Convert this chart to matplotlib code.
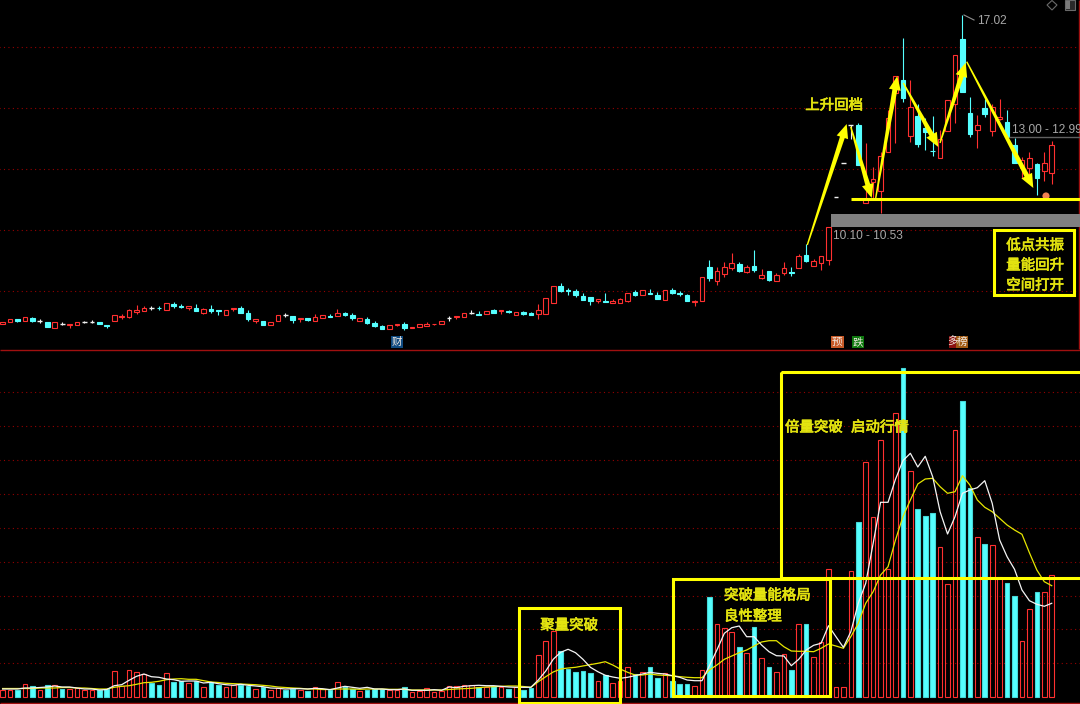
# imports
from matplotlib import pyplot as plt
from matplotlib.patches import Rectangle, Polygon, Circle
import matplotlib.patheffects as pe
import numpy as np

plt.rcParams['font.family'] = ['Noto Sans CJK SC', 'DejaVu Sans']

# daily prices
opens = [8.46, 8.49, 8.54, 8.52, 8.57, 8.51, 8.50, 8.37, 8.46, 8.44,
         8.44, 8.50, 8.50, 8.50, 8.44, 8.51, 8.58, 8.59, 8.69, 8.70,
         8.77, 8.77, 8.72, 8.84, 8.81, 8.77, 8.77, 8.66, 8.75, 8.73,
         8.62, 8.74, 8.77, 8.67, 8.52, 8.52, 8.44, 8.51, 8.62, 8.60,
         8.54, 8.56, 8.51, 8.56, 8.61, 8.60, 8.67, 8.62, 8.51, 8.55,
         8.48, 8.41, 8.35, 8.43, 8.45, 8.37, 8.40, 8.42, 8.45, 8.45,
         8.56, 8.58, 8.58, 8.67, 8.65, 8.65, 8.73, 8.70, 8.71, 8.63,
         8.69, 8.66, 8.64, 8.64, 8.87, 9.21, 9.12, 9.10, 9.01, 8.98,
         8.91, 8.90, 8.86, 8.87, 8.90, 9.08, 9.03, 9.07, 9.03, 8.93,
         9.13, 9.06, 9.03, 8.88, 8.91, 9.61, 9.31, 9.47, 9.60, 9.68,
         9.51, 9.63, 9.38, 9.52, 9.32, 9.49, 9.51, 9.60, 9.88, 9.64,
         9.70, 9.78, 11.28, 12.18, 13.26, 13.26, 11.11, 11.66, 11.42, 12.48,
         14.27, 14.69, 12.94, 13.53, 13.17, 12.51, 12.32, 13.08, 13.90, 16.10,
         13.64, 13.11, 13.78, 13.07, 13.45, 13.34, 12.69, 12.03, 12.04, 12.15,
         11.96, 11.89]
closes = [8.50, 8.54, 8.51, 8.58, 8.51, 8.51, 8.40, 8.49, 8.46, 8.45,
          8.50, 8.50, 8.50, 8.45, 8.42, 8.62, 8.61, 8.72, 8.72, 8.77,
          8.77, 8.76, 8.87, 8.80, 8.79, 8.80, 8.71, 8.74, 8.71, 8.71,
          8.72, 8.76, 8.66, 8.55, 8.54, 8.43, 8.50, 8.62, 8.62, 8.53,
          8.56, 8.53, 8.58, 8.62, 8.58, 8.67, 8.63, 8.56, 8.56, 8.48,
          8.42, 8.35, 8.44, 8.45, 8.38, 8.40, 8.45, 8.46, 8.46, 8.52,
          8.56, 8.60, 8.66, 8.67, 8.63, 8.71, 8.66, 8.72, 8.68, 8.69,
          8.65, 8.62, 8.72, 8.97, 9.21, 9.11, 9.11, 9.03, 8.93, 8.90,
          8.94, 8.89, 8.90, 8.95, 9.06, 9.03, 9.12, 9.05, 8.95, 9.12,
          9.06, 9.05, 8.90, 8.91, 9.40, 9.39, 9.53, 9.61, 9.70, 9.53,
          9.61, 9.55, 9.44, 9.34, 9.44, 9.59, 9.49, 9.86, 9.74, 9.75,
          9.87, 10.52, 11.28, 12.18, 13.26, 12.11, 11.22, 11.75, 12.36, 13.46,
          14.82, 14.09, 13.80, 12.71, 13.06, 12.50, 12.84, 14.05, 15.54, 14.30,
          12.99, 13.25, 13.59, 13.80, 13.49, 12.90, 12.16, 12.25, 12.30, 11.77,
          12.17, 12.69]
highs = [8.50, 8.54, 8.54, 8.58, 8.59, 8.55, 8.50, 8.50, 8.49, 8.45,
         8.50, 8.52, 8.53, 8.50, 8.44, 8.62, 8.65, 8.74, 8.82, 8.80,
         8.81, 8.80, 8.87, 8.88, 8.85, 8.80, 8.84, 8.77, 8.82, 8.73,
         8.72, 8.76, 8.80, 8.72, 8.54, 8.52, 8.50, 8.62, 8.67, 8.60,
         8.56, 8.56, 8.64, 8.62, 8.65, 8.74, 8.68, 8.66, 8.56, 8.59,
         8.51, 8.44, 8.44, 8.45, 8.49, 8.40, 8.45, 8.49, 8.46, 8.52,
         8.60, 8.60, 8.66, 8.73, 8.71, 8.71, 8.75, 8.72, 8.73, 8.69,
         8.71, 8.69, 8.84, 8.97, 9.21, 9.28, 9.17, 9.16, 9.06, 8.98,
         8.94, 9.06, 8.95, 8.97, 9.07, 9.12, 9.12, 9.16, 9.09, 9.12,
         9.17, 9.10, 9.04, 8.92, 9.40, 9.76, 9.61, 9.72, 9.93, 9.72,
         9.66, 10.00, 9.57, 9.52, 9.48, 9.72, 9.61, 9.91, 10.12, 9.80,
         9.87, 10.53, 11.28, 12.18, 13.26, 13.31, 12.72, 12.07, 12.48, 13.72,
         14.82, 16.14, 14.69, 13.90, 13.47, 13.54, 13.11, 14.05, 15.54, 17.02,
         14.12, 13.56, 14.07, 13.90, 14.07, 13.72, 12.87, 12.33, 12.47, 12.18,
         12.47, 12.80]
lows = [8.46, 8.49, 8.49, 8.52, 8.49, 8.48, 8.40, 8.37, 8.44, 8.38,
        8.44, 8.48, 8.47, 8.45, 8.38, 8.51, 8.55, 8.57, 8.64, 8.70,
        8.72, 8.72, 8.72, 8.77, 8.76, 8.72, 8.71, 8.65, 8.67, 8.63,
        8.62, 8.71, 8.66, 8.52, 8.48, 8.43, 8.44, 8.51, 8.58, 8.48,
        8.49, 8.51, 8.51, 8.56, 8.58, 8.60, 8.60, 8.53, 8.51, 8.46,
        8.40, 8.35, 8.35, 8.41, 8.33, 8.37, 8.40, 8.42, 8.43, 8.45,
        8.52, 8.55, 8.58, 8.64, 8.63, 8.65, 8.66, 8.65, 8.66, 8.63,
        8.63, 8.62, 8.54, 8.64, 8.87, 9.09, 9.03, 8.99, 8.93, 8.83,
        8.86, 8.89, 8.86, 8.87, 8.88, 9.01, 9.03, 9.04, 8.95, 8.93,
        9.04, 9.00, 8.90, 8.80, 8.91, 9.31, 9.23, 9.40, 9.55, 9.50,
        9.49, 9.51, 9.36, 9.32, 9.32, 9.44, 9.43, 9.60, 9.72, 9.64,
        9.55, 9.67, 11.28, 12.18, 12.85, 12.11, 11.11, 11.24, 10.86, 12.48,
        12.72, 13.98, 12.77, 12.61, 12.53, 12.36, 12.32, 13.08, 13.31, 14.30,
        12.91, 12.58, 13.50, 12.94, 13.41, 12.90, 12.16, 11.76, 11.71, 11.32,
        11.68, 11.61]

# volume and its two moving averages, r = up day c = down day
volume = [6.7, 6.7, 7.3, 13, 11.3, 6.7, 12.3, 11.7, 8, 7.7,
          9, 6.7, 6.7, 7.3, 8, 26, 10.7, 27, 25, 23,
          13.7, 11.7, 24, 14.7, 15.7, 14, 15.7, 10.3, 14.7, 11.7,
          10.3, 11.7, 12.3, 11.3, 8.3, 9.7, 7, 9, 6.7, 8,
          6.7, 5.7, 10.3, 8.3, 7, 15, 10.3, 8.3, 5.7, 7,
          8, 7.7, 7, 7, 9.7, 4.7, 6.3, 8.7, 5, 6.3,
          10.7, 10.7, 12.3, 12.3, 9.7, 10, 10.7, 9.7, 8.3, 9.7,
          7, 9, 41.7, 56.3, 66, 46, 28.3, 25, 26, 23.7,
          15.7, 22.3, 13.7, 16.3, 29.7, 23, 24.7, 29.7, 19, 23.7,
          16, 13, 13, 11, 26.7, 99.7, 72.7, 68.7, 65, 49.7,
          43.7, 69.7, 38.7, 29.7, 24.7, 42.7, 26.7, 72.7, 72.7, 39.7,
          55.3, 127.7, 10, 10, 126.3, 174.7, 235, 180.3, 256.7, 127.7,
          283.7, 328.7, 226.3, 188, 181.3, 184.3, 150.3, 113, 266.7, 295.7,
          209.3, 160.3, 152.7, 151.7, 120.3, 114, 100.7, 56.3, 87.7, 104.7,
          104.7, 121.7]
vol_side = ('rrcrcrcrcr' 'rrrccrrrrr' 'ccrccrcrcc' 'rrccrcrrcc' 'rcrrcrccrc'
            'ccrrcrrrrr' 'rrrrcrcrcr' 'ccrrrccccc' 'rcrrrcrccr' 'cccrrcrrrc'
            'rcrcrrcrcr' 'rrrrrcrrrr' 'rcrcccrrrc' 'crcrrccrrc' 'rr')
ma_white = [8, 8, 8, 9, 9, 9.5, 10, 11, 10, 10,
            9, 8, 8, 7, 7.5, 11.3, 12.3, 16.7, 20.7, 23,
            20.3, 19.7, 18, 17.3, 15.7, 16, 16, 14, 14.7, 13.3,
            12.3, 11.7, 12.7, 11.7, 11, 10.3, 9, 8.7, 8, 8.3,
            8.3, 8, 8.7, 8.3, 7.3, 9, 10.7, 9.7, 8.7, 9.7,
            8, 8, 7.3, 7.3, 8, 6.7, 6.7, 6.7, 7.3, 6.7,
            10, 9.3, 10.7, 11.3, 11.7, 11.3, 11.3, 10.7, 10, 9.7,
            9.7, 9.7, 17, 26, 37.7, 44.7, 47.7, 44.3, 37.7, 29.7,
            25.3, 21.7, 20, 18.7, 19.7, 21.3, 23, 24.7, 23.7, 23,
            21.3, 19.7, 17, 16.3, 16.3, 31.3, 47, 63.7, 69.3, 71,
            60.3, 60.3, 52, 45.3, 41.3, 41, 31.3, 37.7, 47, 51.7,
            53.7, 71.3, 60.3, 49.7, 65.3, 93.7, 113.7, 153.7, 194.7, 194.7,
            217.7, 236.3, 243.7, 230, 240.7, 220.3, 185.3, 163, 180.3, 203.7,
            207, 209.3, 216.3, 193.7, 157, 140.3, 127.7, 107, 96.3, 92.7,
            90.7, 93.7]
ma_yellow = [8.5, 8.5, 8.5, 8.5, 8.5, 9, 9, 9, 9.5, 9.5,
             9, 9, 8.5, 8, 8, 9.7, 10.7, 11.3, 12.7, 14.3,
             14.7, 15.7, 17.3, 18, 18.3, 17.7, 17.7, 16.3, 15, 14.5,
             13.7, 13.3, 13, 12.7, 12.3, 11.7, 11, 10, 9.5, 9,
             8.7, 8, 8, 7.5, 7.5, 8, 8, 8, 7.7, 8,
             8, 8, 7.7, 7.7, 7.7, 7, 7, 7, 7, 7,
             7.5, 8, 8.3, 8.7, 9.3, 10, 10.3, 10.7, 11, 11,
             10.5, 9.7, 15.3, 20.3, 25, 28, 29, 29.7, 31, 32.3,
             33.7, 35.3, 32, 28, 24.7, 22, 22, 23, 22, 21.7,
             21.3, 20.3, 19.7, 19.3, 19.3, 27, 32, 37.7, 41, 44.3,
             47, 51, 55, 56.3, 56.3, 50.3, 46, 45.7, 45.7, 45.3,
             48.7, 53, 51, 48.7, 60.3, 73.7, 93.7, 105.3, 122, 130.3,
             157, 180.3, 197, 213, 218, 218.7, 210.3, 203.7, 205.3, 221.3,
             212, 197, 189.7, 185.3, 178.7, 172, 167, 162.7, 144.3, 127,
             115.3, 111.3]

# grid levels
price_grid = [15.82, 13.78, 12.0, 10.46, 9.11]
volume_grid = [34, 68, 101, 135, 169, 203, 237, 271, 305]

RED = '#FF3030'
CYAN = '#55FFFF'
YELLOW = '#FFFF00'
TEXT_YELLOW = '#E4E410'
GRID = '#960000'
GREY = '#A8A8A8'


def draw_candles(ax):
    x = np.arange(len(opens))
    for i in x:
        o, c, h, l = opens[i], closes[i], highs[i], lows[i]
        if c == o:
            color = '#F0F0F0'
        elif c > o:
            color = RED
        else:
            color = CYAN
        ax.vlines(i, l, h, color=color, lw=0.8, zorder=2)
        if c == o:
            ax.hlines(o, i - 0.32, i + 0.32, color=color, lw=1, zorder=3)
        elif c > o:
            ax.bar(i, c - o, bottom=o, width=0.62, facecolor='black',
                   edgecolor=color, linewidth=0.8, zorder=3)
        else:
            ax.bar(i, o - c, bottom=c, width=0.62, facecolor=color,
                   edgecolor=color, linewidth=0.8, zorder=3)


def draw_volume(ax):
    for i, v in enumerate(volume):
        if vol_side[i] == 'r':
            ax.bar(i, v, width=0.62, facecolor='none', edgecolor=RED,
                   linewidth=0.8, zorder=2)
        else:
            ax.bar(i, v, width=0.62, facecolor=CYAN, edgecolor='#45D8D8',
                   linewidth=0.8, zorder=2)
    x = np.arange(len(volume))
    ax.plot(x, ma_yellow, color='#E6E600', lw=0.9, zorder=4)
    ax.plot(x, ma_white, color='#F4F4F4', lw=0.9, zorder=5)


def arrow(ax, tail, tip, head_w=12.0, head_l=14.0, tail_w=1.4, neck_w=5.0):
    # tapered arrow, thin at the tail and wide near the head
    tail, tip = np.array(tail, float), np.array(tip, float)
    d = (tip - tail) / np.linalg.norm(tip - tail)
    n = np.array([-d[1], d[0]])
    base = tip - d * head_l
    pts = [tail + n * tail_w / 2, base + n * neck_w / 2, base + n * head_w / 2,
           tip, base - n * head_w / 2, base - n * neck_w / 2, tail - n * tail_w / 2]
    ax.add_patch(Polygon(pts, closed=True, facecolor=YELLOW, edgecolor='none', zorder=6))


def label(ax, x, y, s, ha='left', size=10.4, color=TEXT_YELLOW):
    # a thin stroke gives the heavier look of the note text
    t = ax.text(x, y + 1.5, s, ha=ha, va='center', fontsize=size, color=color, zorder=8)
    t.set_path_effects([pe.withStroke(linewidth=0.5, foreground=color)])


fig = plt.figure(figsize=(10.8, 7.04), dpi=100, facecolor='black')

# price pane
ax_p = fig.add_axes([0, 354 / 704, 1, 350 / 704])
ax_p.set_yscale('log')
ax_p.set_xlim(-0.35, 144.8)
ax_p.set_ylim(7.97, 17.6)
ax_p.hlines(price_grid, -1, 146, color=GRID, lw=0.8, linestyle=(0, (1, 3)), zorder=1)
draw_candles(ax_p)
ax_p.set_axis_off()

# volume pane
ax_v = fig.add_axes([0, 0, 1, 354 / 704])
ax_v.set_xlim(-0.35, 144.8)
ax_v.set_ylim(-7, 347)
ax_v.hlines(volume_grid, -1, 146, color=GRID, lw=0.8, linestyle=(0, (1, 3)), zorder=1)
draw_volume(ax_v)
ax_v.set_axis_off()

# notes drawn on top of the picture
ov = fig.add_axes([0, 0, 1, 1])
ov.set_xlim(0, 1080)
ov.set_ylim(704, 0)
ov.set_axis_off()
ov.patch.set_alpha(0)

ov.hlines([349.5, 703], 0, 1080, color='#A01010', lw=1, zorder=1)
ov.vlines(1079, 0, 349, color='#A01010', lw=1, zorder=1)

# zone under the lows
ov.add_patch(Rectangle((831, 214), 250, 13, facecolor='#808080', edgecolor='none', zorder=4))
ov.add_patch(Circle((1046, 196), 3.6, facecolor='#F08050', edgecolor='none', zorder=4))
ov.hlines(199, 851, 1080, color=YELLOW, lw=2.2, zorder=5)
ov.hlines(137, 1009, 1080, color='#606060', lw=1, zorder=4)

# price labels
ov.plot([964, 968, 974], [15, 17, 20], color='#909090', lw=0.8, zorder=4)
ov.text(977, 20.5, '17.02', family='Liberation Sans', fontsize=8.6, color=GREY, va='center', zorder=8)
ov.text(1012, 130, '13.00 - 12.99', family='Liberation Sans', fontsize=8.6, color=GREY, va='center', zorder=8, clip_on=True)
ov.text(833, 236, '10.10 - 10.53', family='Liberation Sans', fontsize=8.6, color=GREY, va='center', zorder=8)

# yellow swing arrows
arrow(ov, (807.3, 245), (846.7, 124))
arrow(ov, (850.7, 126.7), (871.7, 198))
arrow(ov, (875.7, 198), (897.3, 76))
arrow(ov, (903.3, 83), (938.3, 147))
arrow(ov, (940, 143), (965.7, 62.7))
arrow(ov, (966.7, 61.7), (1033.3, 188))

label(ov, 834, 104, '上升回档', ha='center')

# boxes and notes
boxes = [(994, 230, 80, 65), (519, 608, 101, 95), (673, 579, 157, 117), (781, 372, 302, 206)]
for bx, by, bw, bh in boxes:
    ov.add_patch(Rectangle((bx, by), bw, bh, facecolor='none', edgecolor=YELLOW, lw=2.2, zorder=7))
label(ov, 1035, 244, '低点共振', ha='center')
label(ov, 1035, 264, '量能回升', ha='center')
label(ov, 1035, 284, '空间打开', ha='center')
label(ov, 569, 624, '聚量突破', ha='center')
label(ov, 724, 594, '突破量能格局')
label(ov, 724, 615, '良性整理')
label(ov, 785, 426, '倍量突破')
label(ov, 851, 426, '启动行情')

# event badges
badges = [(390.7, 12, '财', '#0F4A80'), (831, 12.5, '预', '#C85A28'), (852, 12, '跌', '#0F7A0F'),
          (949, 7, '多', '#8A1010'), (956, 12, '榜', '#A05A14')]
for bx, bw, s, col in badges:
    ov.add_patch(Rectangle((bx, 336), bw, 12, facecolor=col, edgecolor='none', zorder=4))
    ov.text(bx + bw / 2, 342, s, ha='center', va='center', fontsize=7.6, color='#F0E8E0', zorder=5, clip_on=True)

# window icons
ov.add_patch(Polygon([(1052, 0.5), (1057, 5), (1052, 10), (1047, 5)], closed=True, facecolor='none', edgecolor='#6A6A6A', lw=0.8))
ov.add_patch(Rectangle((1065, 0), 10, 10, facecolor='#2A2A2A', edgecolor='#6A6A6A', lw=0.8))
ov.add_patch(Rectangle((1066, 1), 4, 8, facecolor='#7A7A7A', edgecolor='none'))

fig.savefig('out.png', dpi=100, facecolor='black')
plt.close(fig=fig)
